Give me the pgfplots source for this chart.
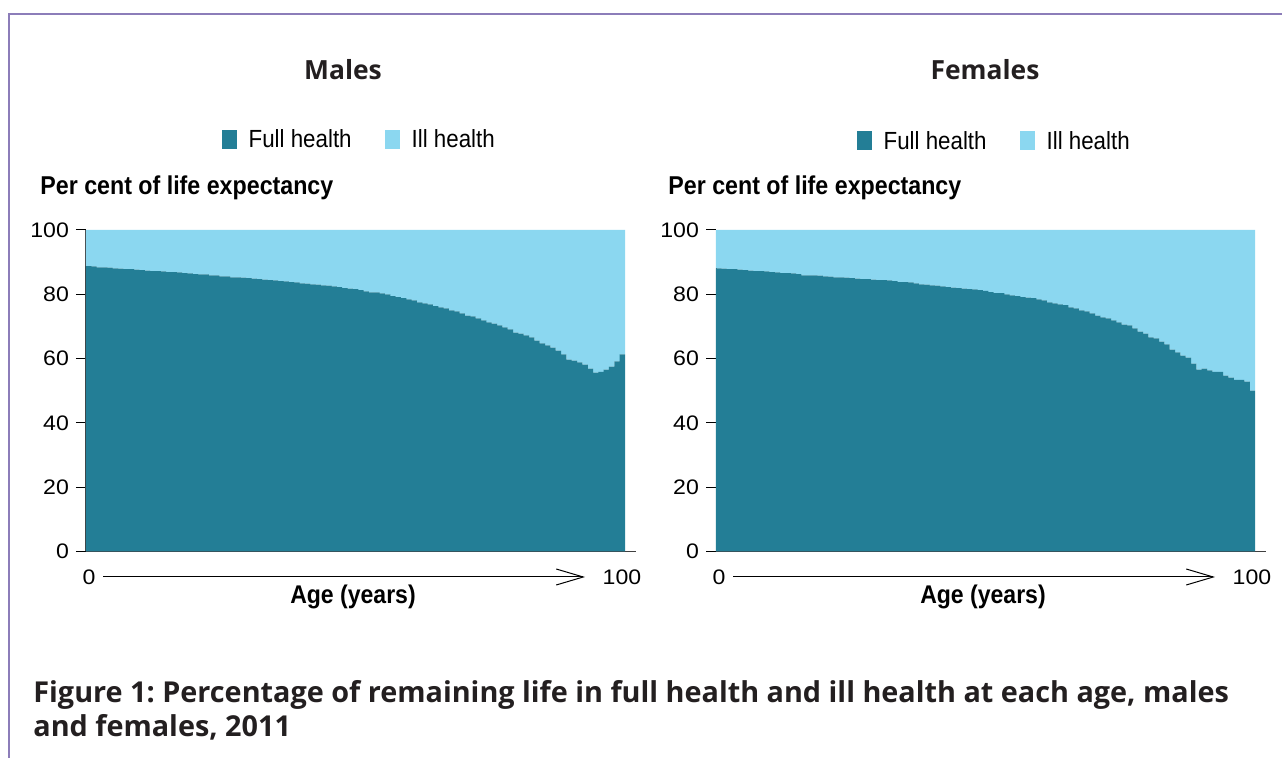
\documentclass[border=0pt]{standalone}
\usepackage{fontspec}
\setmainfont{Liberation Sans}
\newfontfamily\lab[FakeStretch=0.9]{Liberation Sans}
\newfontfamily\num[FakeStretch=1.1]{Liberation Sans}
\newfontfamily\osans{Open Sans}
\usepackage{pgfplots}
\pgfplotsset{compat=1.18}
\usepackage{pgfplotstable}
\usetikzlibrary{arrows.meta}
\definecolor{fullc}{HTML}{237E96}
\definecolor{illc}{HTML}{8BD7F0}
\definecolor{framec}{HTML}{8C7DB9}
\definecolor{captc}{HTML}{231F20}
\frenchspacing

\pgfplotstableread{
age full ill
0 88.8 11.2
1 88.7 11.3
2 88.4 11.6
3 88.4 11.6
4 88.3 11.7
5 88.1 11.9
6 88.0 12.0
7 87.8 12.2
8 87.8 12.2
9 87.7 12.3
10 87.5 12.5
11 87.4 12.6
12 87.2 12.8
13 87.2 12.8
14 87.1 12.9
15 86.9 13.1
16 86.9 13.1
17 86.8 13.2
18 86.6 13.4
19 86.5 13.5
20 86.3 13.7
21 86.2 13.8
22 86.2 13.8
23 85.9 14.1
24 85.9 14.1
25 85.6 14.4
26 85.6 14.4
27 85.3 14.7
28 85.3 14.7
29 85.2 14.8
30 85.0 15.0
31 84.9 15.1
32 84.7 15.3
33 84.6 15.4
34 84.4 15.6
35 84.3 15.7
36 84.1 15.9
37 84.0 16.0
38 83.8 16.2
39 83.7 16.3
40 83.4 16.6
41 83.3 16.7
42 83.1 16.9
43 83.0 17.0
44 82.8 17.2
45 82.7 17.3
46 82.5 17.5
47 82.2 17.8
48 81.9 18.1
49 81.8 18.2
50 81.6 18.4
51 81.3 18.7
52 80.9 19.1
53 80.6 19.4
54 80.6 19.4
55 80.3 19.7
56 80.0 20.0
57 79.4 20.6
58 79.1 20.9
59 78.8 21.2
60 78.4 21.6
61 78.1 21.9
62 77.5 22.5
63 77.2 22.8
64 76.9 23.1
65 76.3 23.7
66 75.9 24.1
67 75.6 24.4
68 75.0 25.0
69 74.7 25.3
70 74.1 25.9
71 73.4 26.6
72 73.1 26.9
73 72.5 27.5
74 71.9 28.1
75 71.3 28.7
76 70.9 29.1
77 70.3 29.7
78 69.7 30.3
79 69.1 30.9
80 68.1 31.9
81 67.8 32.2
82 67.2 32.8
83 66.6 33.4
84 65.6 34.4
85 64.7 35.3
86 64.1 35.9
87 63.4 36.6
88 62.5 37.5
89 61.3 38.7
90 59.7 40.3
91 59.4 40.6
92 58.8 41.2
93 58.1 41.9
94 56.9 43.1
95 55.6 44.4
96 55.9 44.1
97 56.6 43.4
98 57.5 42.5
99 59.1 40.9
100 61.3 38.7
}\males

\pgfplotstableread{
age full ill
0 88.1 11.9
1 88.0 12.0
2 87.8 12.2
3 87.8 12.2
4 87.7 12.3
5 87.5 12.5
6 87.4 12.6
7 87.2 12.8
8 87.2 12.8
9 87.1 12.9
10 86.9 13.1
11 86.8 13.2
12 86.6 13.4
13 86.6 13.4
14 86.5 13.5
15 86.3 13.7
16 85.9 14.1
17 85.9 14.1
18 85.9 14.1
19 85.8 14.2
20 85.6 14.4
21 85.5 14.5
22 85.3 14.7
23 85.3 14.7
24 85.2 14.8
25 85.0 15.0
26 84.9 15.1
27 84.7 15.3
28 84.7 15.3
29 84.6 15.4
30 84.4 15.6
31 84.4 15.6
32 84.3 15.7
33 84.1 15.9
34 83.8 16.2
35 83.8 16.2
36 83.7 16.3
37 83.4 16.6
38 83.1 16.9
39 83.0 17.0
40 82.8 17.2
41 82.7 17.3
42 82.5 17.5
43 82.2 17.8
44 82.1 17.9
45 81.9 18.1
46 81.8 18.2
47 81.6 18.4
48 81.5 18.5
49 81.3 18.7
50 81.1 18.9
51 80.7 19.3
52 80.4 19.6
53 80.4 19.6
54 80.0 20.0
55 79.7 20.3
56 79.4 20.6
57 79.1 20.9
58 79.0 21.0
59 78.8 21.2
60 78.4 21.6
61 78.1 21.9
62 77.5 22.5
63 77.2 22.8
64 76.9 23.1
65 76.6 23.4
66 75.9 24.1
67 75.6 24.4
68 75.0 25.0
69 74.7 25.3
70 74.1 25.9
71 73.4 26.6
72 72.8 27.2
73 72.5 27.5
74 71.9 28.1
75 71.3 28.7
76 70.6 29.4
77 70.3 29.7
78 69.4 30.6
79 68.4 31.6
80 67.8 32.2
81 66.6 33.4
82 66.3 33.7
83 65.3 34.7
84 64.4 35.6
85 62.8 37.2
86 61.9 38.1
87 60.9 39.1
88 60.3 39.7
89 58.4 41.6
90 56.6 43.4
91 56.9 43.1
92 56.3 43.7
93 55.9 44.1
94 55.9 44.1
95 54.7 45.3
96 54.1 45.9
97 53.4 46.6
98 53.4 46.6
99 52.8 47.2
100 50.0 50.0
}\females

\pgfplotsset{lifeaxis/.style={
  ybar stacked, bar width=1.02, scale only axis, width=275pt, height=160.75pt,
  xmin=-0.5, xmax=102.55, ymin=0, ymax=100,
  axis x line*=bottom, axis y line*=left,
  xtick=\empty, ytick={0,20,40,60,80,100},
  tick align=outside, major tick length=5pt,
  axis line style={black!75, line width=0.5pt},
  ytick style={black, line width=0.5pt},
  /pgf/number format/assume math mode=true,
  yticklabel style={font=\num\fontsize{10.5}{12}\selectfont, text=black},
  legend columns=2,
  legend style={draw=none, fill=none, font=\lab\fontsize{12.4}{14}\selectfont,
    /tikz/every even column/.append style={column sep=16.5pt},
    inner sep=0pt, nodes={inner sep=0pt, text depth=0pt}},
  clip=false,
}}

\begin{document}
\begin{tikzpicture}[x=0.5pt,y=-0.5pt]
\path[use as bounding box] (0,0) rectangle (1282,758);
\draw[framec, line width=1.2pt] (9,758) -- (9,14) -- (1282,14);

% Males
\begin{axis}[lifeaxis, at={(43pt,-275.75pt)}, anchor=south west,
  legend style={at={(0.495,1.283)}, anchor=center}]
\addplot[fill=fullc, draw=none,
  legend image code/.code={\fill[fullc] (0pt,-4.75pt) rectangle (7.5pt,4.75pt); \path (13.5pt,0pt);}]
  table[x=age,y=full]{\males};
\addplot[fill=illc, draw=none,
  legend image code/.code={\fill[illc] (0pt,-4.75pt) rectangle (7.5pt,4.75pt); \path (13.5pt,0pt);}]
  table[x=age,y=ill]{\males};
\legend{Full health, Ill health}
\end{axis}

% Females
\begin{axis}[lifeaxis, at={(358pt,-275.75pt)}, anchor=south west,
  legend style={at={(0.504,1.277)}, anchor=center}]
\addplot[fill=fullc, draw=none,
  legend image code/.code={\fill[fullc] (0pt,-4.75pt) rectangle (7.5pt,4.75pt); \path (13.5pt,0pt);}]
  table[x=age,y=full]{\females};
\addplot[fill=illc, draw=none,
  legend image code/.code={\fill[illc] (0pt,-4.75pt) rectangle (7.5pt,4.75pt); \path (13.5pt,0pt);}]
  table[x=age,y=ill]{\females};
\legend{Full health, Ill health}
\end{axis}

% Titles
\node[font=\osans\bfseries\fontsize{13.2}{15}\selectfont, text=captc, inner sep=0pt] at (343,70) {Males};
\node[font=\osans\bfseries\fontsize{13.2}{15}\selectfont, text=captc, inner sep=0pt] at (985,70) {Females};

% y labels
\node[font=\lab\bfseries\fontsize{12.9}{15}\selectfont, anchor=west, inner sep=0pt] at (40,188) {Per cent of life expectancy};
\node[font=\lab\bfseries\fontsize{12.9}{15}\selectfont, anchor=west, inner sep=0pt] at (668,188) {Per cent of life expectancy};

% age arrows
\foreach \ox in {0,630} {
  \node[font=\num\fontsize{10.5}{12}\selectfont, inner sep=0pt] at (89+\ox,577) {0};
  \node[font=\num\fontsize{10.5}{12}\selectfont, inner sep=0pt] at (622+\ox,577) {100};
  \draw[line width=0.5pt, -{Straight Barb[length=13.5pt,width=8pt,line width=0.5pt]}] (103+\ox,577) -- (585+\ox,577);
  \node[font=\lab\bfseries\fontsize{12.8}{15}\selectfont, inner sep=0pt] at (353+\ox,597) {Age (years)};
}

% caption
\node[anchor=base west, font=\osans\bfseries\fontsize{14.4}{17}\selectfont, text=captc, inner sep=0pt] at (33,703) {Figure 1: Percentage of remaining life in full health and ill health at each age, males};
\node[anchor=base west, font=\osans\bfseries\fontsize{14.4}{17}\selectfont, text=captc, inner sep=0pt] at (33,737) {and females, 2011};
\end{tikzpicture}
\end{document}
